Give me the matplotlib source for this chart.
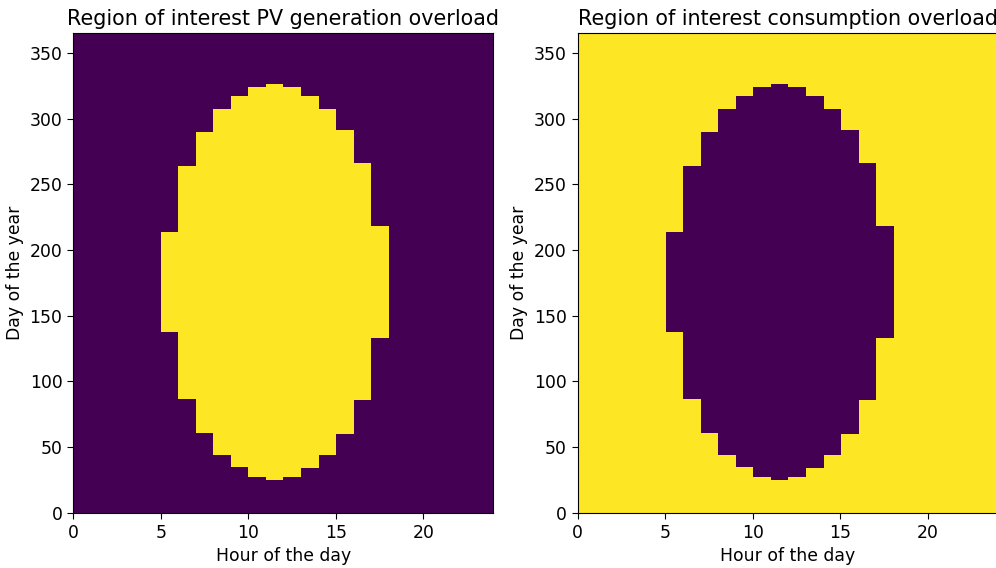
import numpy as np
import matplotlib
matplotlib.use("Agg")
import matplotlib.pyplot as plt

# Daylight hours with PV overload and the day range (start inclusive, end exclusive)
hours = [5, 6, 7, 8, 9, 10, 11, 12, 13, 14, 15, 16, 17]
start_day = [138, 87, 61, 44, 35, 27, 25, 27, 34, 44, 60, 86, 133]
end_day = [214, 264, 290, 307, 317, 324, 326, 324, 317, 307, 291, 266, 218]

n_days = 365
n_hours = 24

pv_overload = np.zeros((n_days, n_hours))
for h, s, e in zip(hours, start_day, end_day):
    pv_overload[s:e, h] = 1
consumption_overload = 1 - pv_overload

plt.rcParams.update({
    "font.size": 12.4,
    "axes.titlesize": 14.9,
    "axes.labelsize": 12.4,
    "xtick.labelsize": 12.4,
    "ytick.labelsize": 12.4,
    "xtick.major.size": 4.3,
    "ytick.major.size": 4.3,
})

fig = plt.figure(figsize=(9.96, 5.68), dpi=100)
ax1 = fig.add_axes([0.0736, 0.0974, 0.4217, 0.844])
ax2 = fig.add_axes([0.58, 0.0974, 0.4217, 0.844])

for ax, data, title in [
    (ax1, pv_overload, "Region of interest PV generation overload"),
    (ax2, consumption_overload, "Region of interest consumption overload"),
]:
    ax.imshow(data, origin="lower", aspect="auto", cmap="viridis",
              extent=[0, n_hours, 0, n_days], interpolation="nearest",
              vmin=0, vmax=1)
    ax.set_title(title)
    ax.set_xlabel("Hour of the day")
    ax.set_ylabel("Day of the year")
    ax.set_xticks([0, 5, 10, 15, 20])
    ax.set_yticks([0, 50, 100, 150, 200, 250, 300, 350])

fig.savefig("out.png", dpi=100)
